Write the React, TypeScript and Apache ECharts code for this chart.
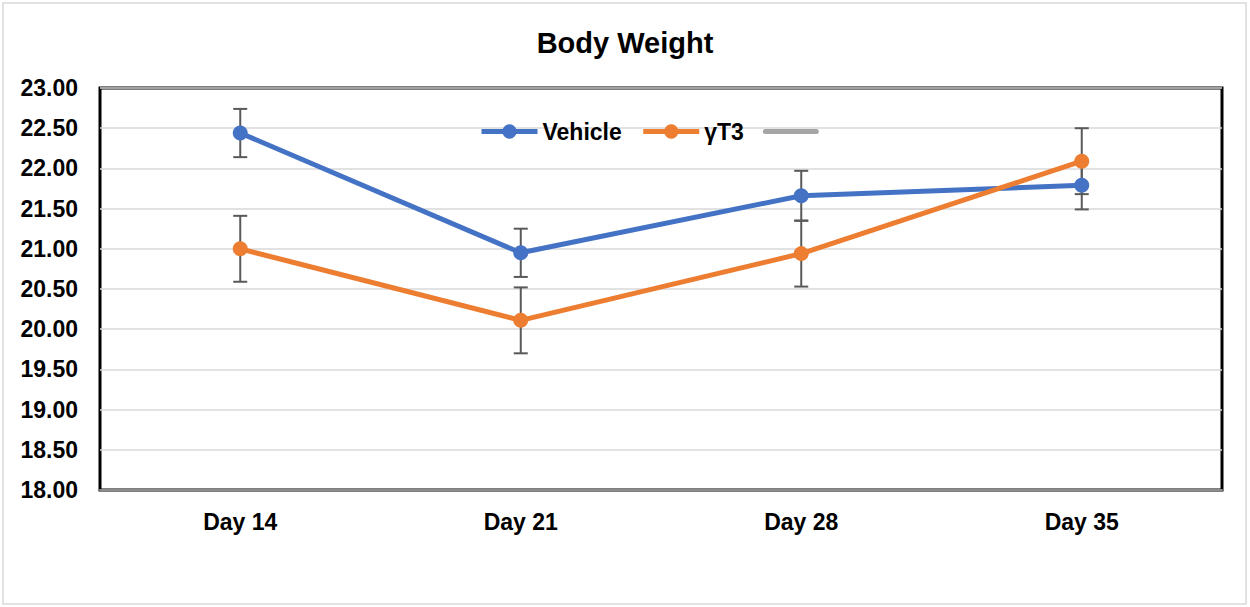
import React, { useEffect, useRef } from "react";
import * as echarts from "echarts";

const categories = ["Day 14", "Day 21", "Day 28", "Day 35"];
const vehicleMean = [22.44, 20.95, 21.66, 21.79];
const vehicleErr = [0.3, 0.3, 0.31, 0.3];
const gt3Mean = [21.0, 20.11, 20.94, 22.09];
const gt3Err = [0.41, 0.41, 0.41, 0.41];
const seriesNames = ["Vehicle", "γT3", " "];
const colors = ["#4472C4", "#ED7D31", "#A5A5A5"];

const FONT = "'Liberation Sans', Arial, sans-serif";

function errorSeries(mean: number[], err: number[], id: string) {
  return {
    type: "custom",
    name: id,
    z: 1,
    silent: true,
    data: mean.map((m, i) => [i, m, err[i]]),
    renderItem: (params: any, api: any) => {
      const i = api.value(0);
      const m = api.value(1);
      const e = api.value(2);
      const hi = api.coord([i, m + e]);
      const lo = api.coord([i, m - e]);
      const w = 7;
      const style = { stroke: "#595959", lineWidth: 2 };
      return {
        type: "group",
        children: [
          { type: "line", shape: { x1: hi[0], y1: hi[1], x2: lo[0], y2: lo[1] }, style },
          { type: "line", shape: { x1: hi[0] - w, y1: hi[1], x2: hi[0] + w, y2: hi[1] }, style },
          { type: "line", shape: { x1: lo[0] - w, y1: lo[1], x2: lo[0] + w, y2: lo[1] }, style },
        ],
      };
    },
  };
}

export default function App() {
  const ref = useRef<HTMLDivElement>(null);
  useEffect(() => {
    document.body.style.margin = "0";
    const chart = echarts.init(ref.current!, null, { renderer: "svg" });
    chart.setOption({
      animation: false,
      backgroundColor: "#ffffff",
      title: {
        text: "Body Weight",
        left: "center",
        top: 23,
        textStyle: { fontFamily: FONT, fontSize: 29, fontWeight: "bold", color: "#000" },
      },
      graphic: [
        {
          type: "rect",
          shape: { x: 3, y: 3, width: 1243, height: 601 },
          style: { fill: "none", stroke: "#d9d9d9", lineWidth: 1.5 },
          silent: true,
        },
      ],
      legend: {
        data: [
          seriesNames[0],
          seriesNames[1],
          {
            name: seriesNames[2],
            icon: "path://M2.5,0 L53.5,0 A2.5,2.5 0 0 1 53.5,5 L2.5,5 A2.5,2.5 0 0 1 2.5,0 Z",
          },
        ],
        left: 474,
        top: 115,
        itemWidth: 56,
        itemHeight: 18,
        itemGap: 19,
        lineStyle: { width: 5 },
        textStyle: { fontFamily: FONT, fontSize: 23, fontWeight: "bold", color: "#000" },
      },
      grid: {
        left: 100,
        right: 28,
        top: 88,
        bottom: 117,
        show: true,
        borderColor: "#000",
        borderWidth: 3,
      },
      xAxis: {
        type: "category",
        data: categories,
        boundaryGap: true,
        axisTick: { show: false },
        axisLine: { show: true, lineStyle: { color: "#8c8c8c", width: 2 } },
        axisLabel: {
          margin: 20,
          fontFamily: FONT,
          fontSize: 23,
          fontWeight: "bold",
          color: "#000",
        },
      },
      yAxis: {
        type: "value",
        min: 18,
        max: 23,
        interval: 0.5,
        axisLine: { show: false },
        axisTick: { show: false },
        splitLine: { lineStyle: { color: "#d9d9d9", width: 1.5 } },
        axisLabel: {
          margin: 22,
          fontFamily: FONT,
          fontSize: 23,
          fontWeight: "bold",
          color: "#000",
          formatter: (v: number) => v.toFixed(2),
        },
      },
      series: [
        errorSeries(vehicleMean, vehicleErr, "errVehicle"),
        errorSeries(gt3Mean, gt3Err, "errGT3"),
        {
          type: "line",
          name: seriesNames[0],
          data: vehicleMean,
          z: 3,
          symbol: "circle",
          symbolSize: 15,
          color: colors[0],
          lineStyle: { width: 5, color: colors[0] },
          itemStyle: { color: colors[0] },
        },
        {
          type: "line",
          name: seriesNames[1],
          data: gt3Mean,
          z: 3,
          symbol: "circle",
          symbolSize: 15,
          color: colors[1],
          lineStyle: { width: 5, color: colors[1] },
          itemStyle: { color: colors[1] },
        },
        {
          type: "line",
          name: seriesNames[2],
          data: [],
          symbol: "none",
          color: colors[2],
          lineStyle: { width: 5, color: colors[2] },
          itemStyle: { color: colors[2] },
        },
      ],
    });
    return () => chart.dispose();
  }, []);
  return <div ref={ref} style={{ width: 1250, height: 607 }} />;
}
